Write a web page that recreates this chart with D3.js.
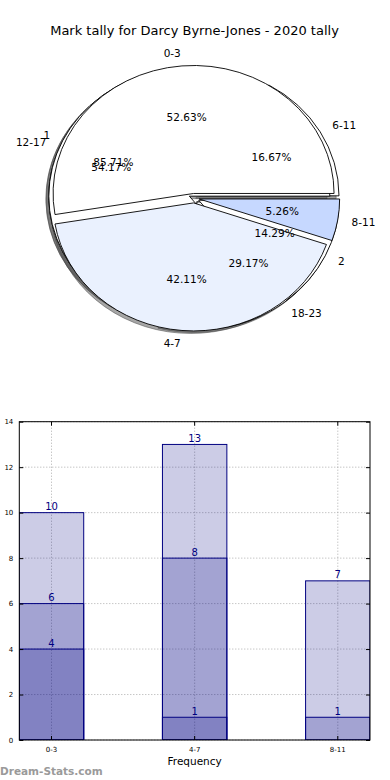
<!DOCTYPE html>
<html>
<head>
<meta charset="utf-8">
<script src="https://cdn.jsdelivr.net/npm/d3@7/dist/d3.min.js"></script>
<style>
  body { margin: 0; background: #fff; }
  svg { display: block; font-family: "DejaVu Sans", sans-serif; }
</style>
</head>
<body>
<svg id="chart"></svg>
<script>
// data
const title = 'Mark tally for Darcy Byrne-Jones - 2020 tally';
const pieALabels = ['0-3', '4-7', '8-11'];
const pieAValues = [10, 8, 1];
const pieBLabels = ['6-11', '12-17', '18-23'];
const pieBValues = [4, 13, 7];
const pieCLabels = ['1', '2'];
const pieCValues = [6, 1];
const barCategories = ['0-3', '4-7', '8-11'];
const yTicks = [0, 2, 4, 6, 8, 10, 12, 14];
const xLabel = 'Frequency';
const watermark = 'Dream-Stats.com';

const W = 390, H = 780;
const svg = d3.select('#chart').attr('width', W).attr('height', H);

svg.append('text')
  .attr('x', 194.5).attr('y', 34.5)
  .attr('text-anchor', 'middle')
  .attr('font-size', 13)
  .attr('fill', '#000')
  .text(title);

// ---------- pies (three overlaid, like the original) ----------
const pc = { cx: 194, cy: 198.2, rx: 140.5, ry: 128, explode: 0.037 };
const sx = pc.rx / pc.ry;

const pies = [
  { labels: pieBLabels, values: pieBValues, colors: ['#ffffff', '#ffffff', '#ffffff'] },
  { labels: pieCLabels, values: pieCValues, colors: ['#ffffff', '#ffffff'] },
  { labels: pieALabels, values: pieAValues, colors: ['#ffffff', '#eaf1fe', '#c6d8ff'] }
];

// counter-clockwise from 3 o'clock
const pieGen = d3.pie().sort(null)
  .startAngle(Math.PI / 2)
  .endAngle(Math.PI / 2 - 2 * Math.PI);
const arcGen = d3.arc().innerRadius(0).outerRadius(pc.ry);
const pctFmt = d3.format('.2f');

pies.forEach(p => {
  p.arcs = pieGen(p.values).map((d, i) => {
    const mid = (d.startAngle + d.endAngle) / 2;
    return { d, i, dx: Math.sin(mid), dy: -Math.cos(mid) };
  });
  p.total = d3.sum(p.values);
});

const pieG = svg.append('g')
  .attr('transform', `translate(${pc.cx},${pc.cy}) scale(${sx},1)`);

// shadows go under every wedge
const shadowG = pieG.append('g');
const wedgeG = pieG.append('g');

pies.forEach(p => {
  shadowG.selectAll(null)
    .data(p.arcs)
    .join('path')
    .attr('d', a => arcGen(a.d))
    .attr('transform', a => `translate(${pc.explode * pc.ry * a.dx - 0.02 * pc.ry},${pc.explode * pc.ry * a.dy + 0.02 * pc.ry})`)
    .attr('fill', 'rgb(77,77,77)')
    .attr('fill-opacity', 0.5)
    .attr('stroke', 'rgb(77,77,77)')
    .attr('stroke-opacity', 0.5)
    .attr('vector-effect', 'non-scaling-stroke');

  wedgeG.selectAll(null)
    .data(p.arcs)
    .join('path')
    .attr('d', a => arcGen(a.d))
    .attr('transform', a => `translate(${pc.explode * pc.ry * a.dx},${pc.explode * pc.ry * a.dy})`)
    .attr('fill', a => p.colors[a.i])
    .attr('stroke', '#000')
    .attr('stroke-width', 0.9)
    .attr('stroke-linejoin', 'round')
    .attr('vector-effect', 'non-scaling-stroke');
});

const textG = svg.append('g').attr('font-size', 10.5).attr('fill', '#000');
pies.forEach(p => {
  textG.selectAll(null)
    .data(p.arcs)
    .join('text')
    .attr('x', a => pc.cx + (1.1 + pc.explode) * pc.rx * a.dx)
    .attr('y', a => pc.cy + (1.1 + pc.explode) * pc.ry * a.dy)
    .attr('dy', '0.35em')
    .attr('text-anchor', a => a.dx > 0 ? 'start' : 'end')
    .text(a => p.labels[a.i]);

  textG.selectAll(null)
    .data(p.arcs)
    .join('text')
    .attr('x', a => pc.cx + (0.6 + pc.explode) * pc.rx * a.dx)
    .attr('y', a => pc.cy + (0.6 + pc.explode) * pc.ry * a.dy)
    .attr('dy', '0.35em')
    .attr('text-anchor', 'middle')
    .text(a => pctFmt(a.d.value / p.total * 100) + '%');
});

// ---------- bar chart ----------
const bm = { left: 19.3, right: 370, top: 421.7, bottom: 740 };
const bw = bm.right - bm.left, bh = bm.bottom - bm.top;

const x = d3.scaleBand()
  .domain(barCategories)
  .range([bm.left, bm.right])
  .paddingInner(0.55)
  .paddingOuter(0);
const y = d3.scaleLinear().domain([0, 14]).range([bm.bottom, bm.top]);

const barG = svg.append('g');

svg.append('clipPath').attr('id', 'plotclip')
  .append('rect')
  .attr('x', bm.left).attr('y', bm.top).attr('width', bw).attr('height', bh);

// dotted grid
barG.append('g').selectAll('line')
  .data(yTicks)
  .join('line')
  .attr('x1', bm.left).attr('x2', bm.right)
  .attr('y1', d => y(d)).attr('y2', d => y(d))
  .attr('stroke', '#999').attr('stroke-width', 0.8)
  .attr('stroke-dasharray', '1,2');
barG.append('g').selectAll('line')
  .data(barCategories)
  .join('line')
  .attr('x1', d => x(d) + x.bandwidth() / 2).attr('x2', d => x(d) + x.bandwidth() / 2)
  .attr('y1', bm.top).attr('y2', bm.bottom)
  .attr('stroke', '#999').attr('stroke-width', 0.8)
  .attr('stroke-dasharray', '1,2');

// each pie's values drawn as overlapping translucent bars
const barSeries = [pieAValues, pieBValues, pieCValues];
const barData = [];
barSeries.forEach(vals => {
  vals.forEach((v, i) => barData.push({ cat: barCategories[i], v }));
});

const bars = barG.append('g').attr('clip-path', 'url(#plotclip)');
bars.selectAll('rect')
  .data(barData)
  .join('rect')
  .attr('x', d => x(d.cat))
  .attr('y', d => y(d.v))
  .attr('width', x.bandwidth())
  .attr('height', d => y(0) - y(d.v))
  .attr('fill', 'navy')
  .attr('fill-opacity', 0.2)
  .attr('stroke', 'navy')
  .attr('stroke-width', 1);

barG.append('g').selectAll('text')
  .data(barData)
  .join('text')
  .attr('x', d => x(d.cat) + x.bandwidth() / 2)
  .attr('y', d => y(d.v) - 2.5)
  .attr('text-anchor', 'middle')
  .attr('font-size', 10)
  .attr('fill', 'navy')
  .text(d => d.v);

// axes: ticks inside on all four sides
const yAxisL = d3.axisLeft(y).tickValues(yTicks).tickSize(-4).tickPadding(6);
const yAxisR = d3.axisRight(y).tickValues(yTicks).tickSize(-4).tickFormat('');
const xAxisB = d3.axisBottom(x).tickSize(-4).tickPadding(7);
const xAxisT = d3.axisTop(x).tickSize(-4).tickFormat('');

const axes = [
  svg.append('g').attr('transform', `translate(${bm.left},0)`).call(yAxisL),
  svg.append('g').attr('transform', `translate(${bm.right},0)`).call(yAxisR),
  svg.append('g').attr('transform', `translate(0,${bm.bottom})`).call(xAxisB),
  svg.append('g').attr('transform', `translate(0,${bm.top})`).call(xAxisT)
];
axes.forEach(g => {
  g.select('.domain').remove();
  g.selectAll('text').attr('font-size', 7).attr('fill', '#000')
    .attr('font-family', '"DejaVu Sans", sans-serif');
  g.selectAll('line').attr('stroke', '#000');
});

svg.append('rect')
  .attr('x', bm.left).attr('y', bm.top)
  .attr('width', bw).attr('height', bh)
  .attr('fill', 'none').attr('stroke', '#000').attr('stroke-width', 1);

svg.append('text')
  .attr('x', (bm.left + bm.right) / 2).attr('y', 764.5)
  .attr('text-anchor', 'middle')
  .attr('font-size', 10.5)
  .text(xLabel);

svg.append('text')
  .attr('x', 0).attr('y', 775)
  .attr('font-size', 10.5)
  .attr('font-weight', 'bold')
  .attr('fill', '#9a9a9a')
  .text(watermark);
</script>
</body>
</html>
